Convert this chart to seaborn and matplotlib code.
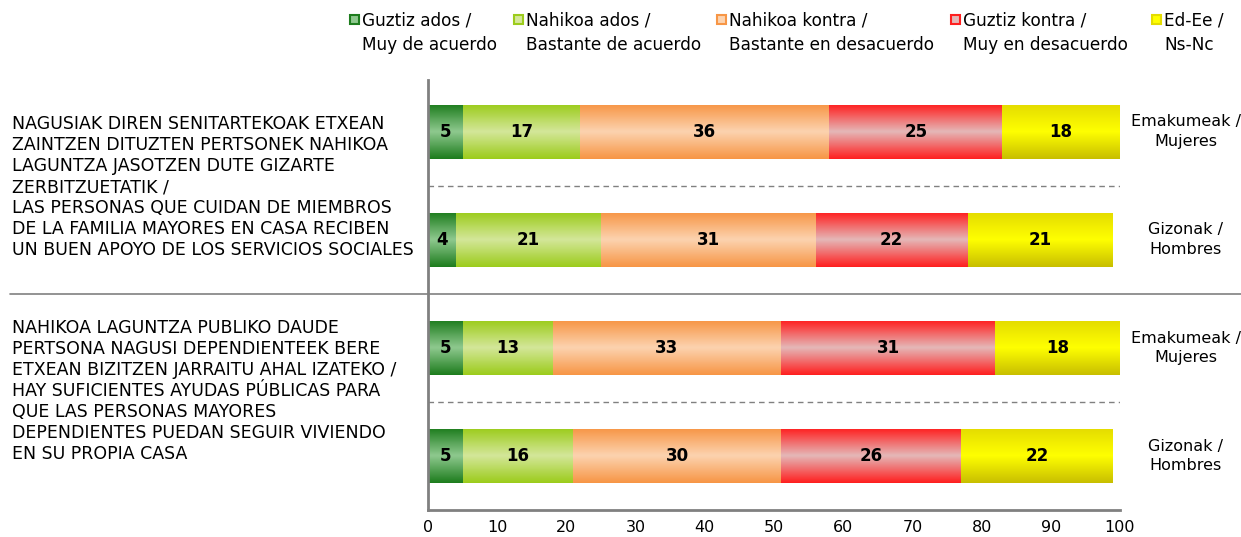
import numpy as np
import pandas as pd
import matplotlib
matplotlib.use("Agg")
import matplotlib.pyplot as plt
import matplotlib.colors as mcolors
from matplotlib.patches import Rectangle
import seaborn as sns

# data
bar_labels = ["Emakumeak /\nMujeres", "Gizonak /\nHombres", "Emakumeak /\nMujeres", "Gizonak /\nHombres"]
muy_acuerdo = [5, 4, 5, 5]
bastante_acuerdo = [17, 21, 13, 16]
bastante_desacuerdo = [36, 31, 33, 30]
muy_desacuerdo = [25, 22, 31, 26]
ns_nc = [18, 21, 18, 22]
categories = ["Guztiz ados /\nMuy de acuerdo", "Nahikoa ados /\nBastante de acuerdo",
              "Nahikoa kontra /\nBastante en desacuerdo", "Guztiz kontra /\nMuy en desacuerdo",
              "Ed-Ee /\nNs-Nc"]
questions = [
    "NAGUSIAK DIREN SENITARTEKOAK ETXEAN\nZAINTZEN DITUZTEN PERTSONEK NAHIKOA\n"
    "LAGUNTZA JASOTZEN DUTE GIZARTE\nZERBITZUETATIK /\nLAS PERSONAS QUE CUIDAN DE MIEMBROS\n"
    "DE LA FAMILIA MAYORES EN CASA RECIBEN\nUN BUEN APOYO DE LOS SERVICIOS SOCIALES",
    "NAHIKOA LAGUNTZA PUBLIKO DAUDE\nPERTSONA NAGUSI DEPENDIENTEEK BERE\n"
    "ETXEAN BIZITZEN JARRAITU AHAL IZATEKO /\nHAY SUFICIENTES AYUDAS PÚBLICAS PARA\n"
    "QUE LAS PERSONAS MAYORES\nDEPENDIENTES PUEDAN SEGUIR VIVIENDO\nEN SU PROPIA CASA",
]

df = pd.DataFrame({categories[0]: muy_acuerdo, categories[1]: bastante_acuerdo,
                   categories[2]: bastante_desacuerdo, categories[3]: muy_desacuerdo,
                   categories[4]: ns_nc})

# gradient stops: top, middle, bottom
grads = [("#1e7d1e", "#8fc98f", "#1e7d1e"),
         ("#9ccc1c", "#d4e79a", "#9ccc1c"),
         ("#f79646", "#fcd3b0", "#f79646"),
         ("#ff2020", "#e4b8b8", "#ff2020"),
         ("#e4dc00", "#ffff00", "#c8bf00")]

sns.set_style("white")
plt.rcParams["font.family"] = ["DejaVu Sans"]
plt.rcParams["text.color"] = "black"
plt.rcParams["xtick.labelcolor"] = "black"

fig = plt.figure(figsize=(12.41, 5.37), dpi=100)
ax = fig.add_axes([428/1241, 1-510/537, 692/1241, 430/537])

ypos = np.arange(len(bar_labels))
left = np.zeros(len(bar_labels))
for i, cat in enumerate(categories):
    vals = df[cat].values
    cont = ax.barh(ypos, vals, left=left, height=0.5, color=grads[i][0], linewidth=0)
    # vertical gradient clipped to each bar
    cmap = mcolors.LinearSegmentedColormap.from_list("g%d" % i, list(grads[i]))
    grad = np.linspace(0, 1, 64).reshape(-1, 1)
    for p in cont.patches:
        x0, y0 = p.get_x(), p.get_y()
        w, h = p.get_width(), p.get_height()
        im = ax.imshow(grad, cmap=cmap, aspect="auto", extent=(x0, x0 + w, y0 + h, y0),
                       origin="upper", zorder=p.get_zorder(), interpolation="bilinear")
        im.set_clip_path(p.get_path(), p.get_transform())
    ax.bar_label(cont, labels=[str(v) for v in vals], label_type="center",
                 fontsize=12, fontweight="bold", color="black")
    left += vals

ax.set_xlim(0, 100)
ax.set_ylim(3.5, -0.48)
ax.set_aspect("auto")
ax.set_xticks(np.arange(0, 101, 10))
ax.set_yticks([0.5, 1.5, 2.5])
ax.set_yticklabels([])
ax.tick_params(axis="x", length=5, width=1.5, color="#808080", labelsize=11.5, pad=5, direction="inout")
ax.tick_params(axis="y", length=4, width=1.5, color="#808080", direction="out")
for s in ["top", "right"]:
    ax.spines[s].set_visible(False)
for s in ["left", "bottom"]:
    ax.spines[s].set_color("#808080")
    ax.spines[s].set_linewidth(2)

# separators
ax.axhline(0.5, color="#808080", ls=(0, (4, 3)), lw=1)
ax.axhline(2.5, color="#808080", ls=(0, (4, 3)), lw=1)
ax.axhline(1.5, xmin=-0.604, xmax=1.2, color="#808080", lw=1.2, clip_on=False)

# right labels
for y, lab in zip(ypos, bar_labels):
    ax.text(109.5, y, lab, ha="center", va="center", fontsize=11.5, linespacing=1.4)

# question texts
fig.text(12/1241, 1-187/537, questions[0], ha="left", va="center", fontsize=12.5, linespacing=1.22)
fig.text(12/1241, 1-391/537, questions[1], ha="left", va="center", fontsize=12.5, linespacing=1.22)

# legend
leg_x = [350, 514, 717, 951, 1152]
for i, cat in enumerate(categories):
    fig.patches.append(Rectangle((leg_x[i]/1241, 1-24/537), 9/1241, 9/537,
                                 transform=fig.transFigure, color=grads[i][1],
                                 ec=grads[i][0], lw=1.5))
    fig.text((leg_x[i]+12)/1241, 1-33/537, cat, ha="left", va="center",
             fontsize=12.2, linespacing=1.45)

fig.savefig("out.png", dpi=100)
